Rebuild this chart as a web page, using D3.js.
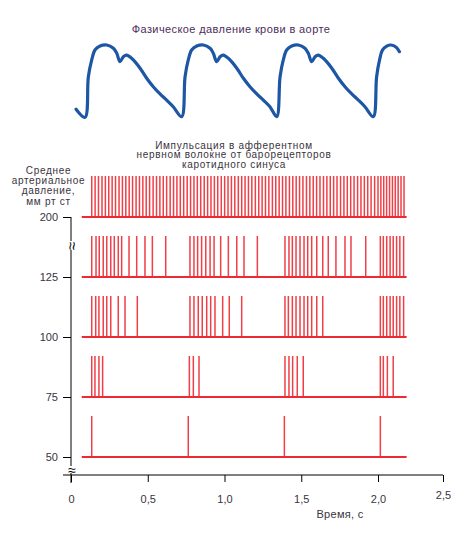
<!DOCTYPE html>
<html>
<head>
<meta charset="utf-8">
<script src="https://cdn.jsdelivr.net/npm/d3@7"></script>
<style>
  html, body { margin: 0; padding: 0; background: #fff; }
  svg { display: block; font-family: "Liberation Sans", Arial, sans-serif; }
</style>
</head>
<body>
<svg id="chart" width="471" height="538"></svg>
<script>
// ---------- DATA ----------
const aortaTitle = "Фазическое давление крови в аорте";
const pulseTitle = ["Импульсация в афферентном", "нервном волокне от барорецепторов", "каротидного синуса"];
const yTitle = ["Среднее", "артериальное", "давление,", "мм рт ст"];
const xTitle = "Время, с";

// Aortic pressure curve (time s, pressure mm Hg)
const aortaTime = [0.033, 0.091, 0.113, 0.135, 0.156, 0.189, 0.233, 0.276, 0.298, 0.319, 0.341, 0.363, 0.395, 0.450, 0.493, 0.536, 0.580, 0.623, 0.666,
  0.721, 0.743, 0.764, 0.786, 0.819, 0.862, 0.906, 0.927, 0.949, 0.971, 0.992, 1.025, 1.080, 1.123, 1.166, 1.210, 1.253, 1.296,
  1.340, 1.362, 1.383, 1.405, 1.438, 1.481, 1.524, 1.546, 1.568, 1.590, 1.611, 1.644, 1.699, 1.742, 1.785, 1.829, 1.872, 1.915,
  1.969, 1.991, 2.012, 2.034, 2.067, 2.100, 2.140, 2.165];
const aortaPressure = [84.3, 79.8, 102.4, 111.7, 117.2, 119.4, 120, 118.2, 115.4, 110.7, 113.5, 114.4, 112.6, 107.1, 101.5, 96.8, 92.8, 89.4, 85.7,
  80.2, 102.4, 111.7, 117.2, 119.4, 120, 118.2, 115.4, 110.7, 113.5, 114.4, 112.6, 107.1, 101.5, 96.8, 92.8, 89.4, 85.7,
  80.2, 102.4, 111.7, 117.2, 119.4, 120, 118.2, 115.4, 110.7, 113.5, 114.4, 112.6, 107.1, 101.5, 96.8, 92.8, 89.4, 85.7,
  80.2, 102.4, 111.7, 117.2, 119.4, 120, 118.8, 116.3];

// Mean arterial pressure levels (rows) and impulse times (s)
const pressureLevels = ["200", "125", "100", "75", "50"];
const spikes200 = [0.135, 0.157, 0.179, 0.202, 0.224, 0.246, 0.268, 0.290, 0.313, 0.335, 0.357, 0.379, 0.401, 0.424, 0.446, 0.468, 0.490, 0.512, 0.535, 0.557,
  0.579, 0.601, 0.623, 0.646, 0.668, 0.690, 0.712, 0.734, 0.757, 0.779, 0.801, 0.823, 0.845, 0.868, 0.890, 0.912, 0.934, 0.956, 0.979, 1.001,
  1.023, 1.045, 1.067, 1.090, 1.112, 1.134, 1.156, 1.178, 1.201, 1.223, 1.245, 1.267, 1.289, 1.312, 1.334, 1.356, 1.378, 1.400, 1.423, 1.445,
  1.467, 1.489, 1.511, 1.534, 1.556, 1.578, 1.600, 1.622, 1.645, 1.667, 1.689, 1.711, 1.733, 1.756, 1.778, 1.800, 1.822, 1.844, 1.867, 1.889,
  1.911, 1.933, 1.955, 1.978, 2.000, 2.022, 2.044, 2.066, 2.089, 2.111, 2.133, 2.155, 2.177, 2.200];
const spikes125 = [0.135, 0.163, 0.184, 0.210, 0.233, 0.259, 0.282, 0.308, 0.330, 0.378, 0.428, 0.482, 0.530, 0.617,
  0.775, 0.801, 0.825, 0.851, 0.878, 0.906, 0.932, 0.975, 1.025, 1.080, 1.127, 1.214,
  1.394, 1.420, 1.442, 1.466, 1.492, 1.518, 1.542, 1.568, 1.601, 1.640, 1.676, 1.726, 1.785, 1.824, 1.920,
  2.018, 2.041, 2.067, 2.093, 2.117, 2.143, 2.168, 2.197];
const spikes100 = [0.135, 0.161, 0.182, 0.210, 0.233, 0.259, 0.308, 0.352, 0.432,
  0.775, 0.801, 0.829, 0.855, 0.884, 0.910, 0.938, 0.988, 1.031, 1.112,
  1.394, 1.416, 1.442, 1.466, 1.492, 1.518, 1.542, 1.568, 1.601, 1.640,
  2.018, 2.041, 2.067, 2.093, 2.117, 2.143, 2.168, 2.197];
const spikes75 = [0.135, 0.156, 0.182, 0.206, 0.771, 0.797, 0.834, 1.394, 1.420, 1.444, 1.474, 1.513, 2.018, 2.041, 2.072, 2.117];
const spikes50 = [0.135, 0.764, 1.390, 2.018];
const recordStart = 0.07, recordEnd = 2.22;

const xTickValues = [0, 0.5, 1.0, 1.5, 2.0, 2.5];
const xTickLabels = ["0", "0,5", "1,0", "1,5", "2,0", "2,5"];

// ---------- DRAW ----------
const spikeRows = [spikes200, spikes125, spikes100, spikes75, spikes50];
const svg = d3.select("#chart");

const x = d3.scaleLinear().domain([0, 2, 2.5]).range([71, 378, 443]);
const yRow = d3.scalePoint().domain(pressureLevels).range([217, 457]);
const yP = d3.scaleLinear().domain([80, 120]).range([117, 45]);
const spikeH = 41;
const red = "#ee2b34";
const txt = "#3a3340";

// Title 1
svg.append("text").attr("x", 231).attr("y", 33).attr("text-anchor", "middle")
  .attr("font-size", 11).attr("letter-spacing", 0.4).attr("fill", "#4d2c5c").text(aortaTitle);

// Aortic curve
const line = d3.line().x((d, i) => x(aortaTime[i])).y((d, i) => yP(aortaPressure[i])).curve(d3.curveCatmullRom.alpha(0.5));
svg.append("path").datum(aortaTime).attr("d", line)
  .attr("fill", "none").attr("stroke", "#1c56a5").attr("stroke-width", 3.2)
  .attr("stroke-linejoin", "round").attr("stroke-linecap", "round");

// Multi-line text helper
function multiline(lines, cx, y0, dy, fill) {
  svg.append("g").selectAll("text").data(lines).join("text")
    .attr("text-anchor", "middle").attr("font-size", 10).attr("letter-spacing", 0.7)
    .attr("fill", fill).attr("x", cx).attr("y", (d, i) => y0 + i * dy).text(d => d);
}
multiline(pulseTitle, 234, 148.5, 9.9, txt);
multiline(yTitle, 48.5, 173.5, 10.4, txt);

// Spike rows
pressureLevels.forEach((lvl, r) => {
  const yb = yRow(lvl);
  const g = svg.append("g");
  g.selectAll("line.sp").data(spikeRows[r]).join("line").attr("class", "sp")
    .attr("x1", d => x(d)).attr("x2", d => x(d))
    .attr("y1", yb).attr("y2", yb - spikeH)
    .attr("stroke", red).attr("stroke-width", 1.5).attr("opacity", 0.9);
  g.append("line").attr("x1", x(recordStart)).attr("x2", x(recordEnd))
    .attr("y1", yb).attr("y2", yb).attr("stroke", red).attr("stroke-width", 2);
});

// Y axis
const yAxis = d3.axisLeft(yRow).tickSize(8).tickPadding(5);
const gy = svg.append("g").attr("transform", "translate(71,0)").call(yAxis);
gy.select(".domain").remove();
gy.selectAll(".tick line").attr("stroke", "#000");
gy.selectAll(".tick text").attr("font-size", 11).attr("fill", txt)
  .attr("font-family", "Liberation Sans, Arial, sans-serif");
svg.append("line").attr("x1", 71).attr("x2", 71).attr("y1", yRow("200")).attr("y2", 483)
  .attr("stroke", "#000").attr("stroke-width", 1);

// X axis
const xAxis = d3.axisBottom(x).tickValues(xTickValues).tickFormat((d, i) => xTickLabels[i]).tickSize(7).tickPadding(13);
const gx = svg.append("g").attr("transform", "translate(0,475)").call(xAxis);
gx.select(".domain").remove();
gx.selectAll(".tick line").attr("stroke", "#000");
gx.selectAll(".tick text").attr("font-size", 11).attr("fill", txt)
  .attr("font-family", "Liberation Sans, Arial, sans-serif");
gx.selectAll(".tick").filter(d => d === 2.5).select("text").attr("dy", "0.35em");
svg.append("line").attr("x1", 63).attr("x2", x(2.5)).attr("y1", 475).attr("y2", 475)
  .attr("stroke", "#000").attr("stroke-width", 1);

// Axis breaks
svg.append("rect").attr("x", 66).attr("y", 241).attr("width", 10).attr("height", 9).attr("fill", "#fff");
svg.append("text").attr("x", 71).attr("y", 246).attr("text-anchor", "middle").attr("dominant-baseline", "central")
  .attr("font-size", 15).attr("fill", "#000").attr("transform", "rotate(-90,71,246)").text("≈");
svg.append("rect").attr("x", 66).attr("y", 466).attr("width", 10).attr("height", 7).attr("fill", "#fff");
svg.append("text").attr("x", 72).attr("y", 469.5).attr("text-anchor", "middle").attr("dominant-baseline", "central")
  .attr("font-size", 14).attr("fill", "#000").text("≈");

// X title
svg.append("text").attr("x", 340).attr("y", 518).attr("text-anchor", "middle")
  .attr("font-size", 11).attr("letter-spacing", 0.3).attr("fill", txt).text(xTitle);
</script>
</body>
</html>
